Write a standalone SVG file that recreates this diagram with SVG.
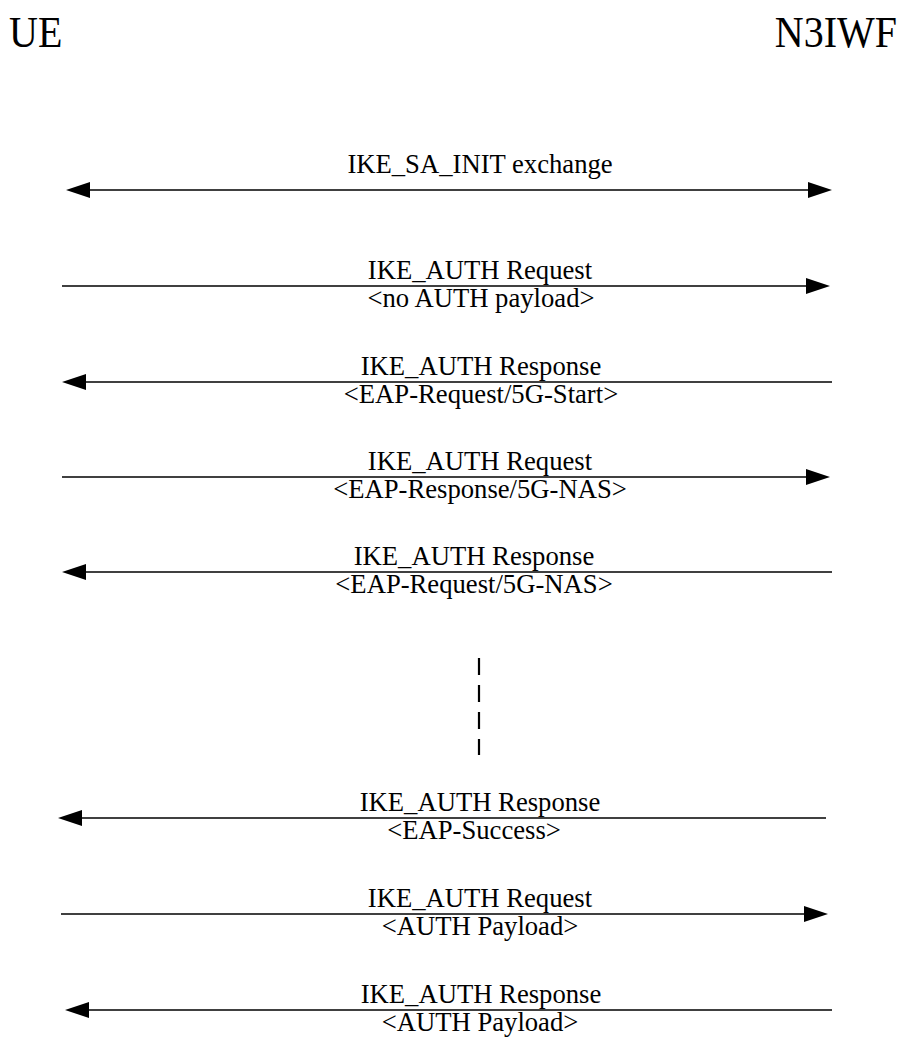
<svg xmlns="http://www.w3.org/2000/svg" width="902" height="1037" viewBox="0 0 902 1037">
<style>
.t{font-family:"Liberation Serif","Times New Roman",serif;fill:#000}
.lbl{font-size:26.67px;text-anchor:middle}
.hdr{font-size:40px}
.msg{stroke:#000;stroke-width:1.5;fill:none}
.dash{stroke:#000;stroke-width:2.2;stroke-dasharray:17 10;fill:none}
</style>
<defs>
<marker id="ah" markerUnits="userSpaceOnUse" markerWidth="24" markerHeight="16" refX="0" refY="8" orient="auto-start-reverse" viewBox="0 0 24 16">
<path d="M0,0 L24,8 L0,16 z" fill="#000"/>
</marker>
</defs>
<rect width="902" height="1037" fill="#fff"/>
<g id="ue"><text class="t hdr" transform="translate(9,47) scale(1,1.1)">UE</text></g>
<g id="n3iwf"><text class="t hdr" transform="translate(897,47) scale(1,1.1)" text-anchor="end">N3IWF</text></g>
<g id="connectors">
<line class="msg" x1="90" y1="190" x2="808" y2="190" marker-start="url(#ah)" marker-end="url(#ah)"/>
<line class="msg" x1="62" y1="286" x2="806" y2="286" marker-end="url(#ah)"/>
<line class="msg" x1="832" y1="382" x2="86" y2="382" marker-end="url(#ah)"/>
<line class="msg" x1="62" y1="477" x2="806" y2="477" marker-end="url(#ah)"/>
<line class="msg" x1="832" y1="572" x2="86" y2="572" marker-end="url(#ah)"/>
<line class="dash" x1="479" y1="658" x2="479" y2="755"/>
<line class="msg" x1="826" y1="818" x2="82" y2="818" marker-end="url(#ah)"/>
<line class="msg" x1="61" y1="914" x2="804" y2="914" marker-end="url(#ah)"/>
<line class="msg" x1="832" y1="1010" x2="89" y2="1010" marker-end="url(#ah)"/>
</g>
<g id="labels" class="t lbl">
<text x="480" y="173">IKE_SA_INIT exchange</text>
<text x="480" y="279">IKE_AUTH Request</text>
<text x="481" y="307">&lt;no AUTH payload&gt;</text>
<text x="481" y="375">IKE_AUTH Response</text>
<text x="481" y="403">&lt;EAP-Request/5G-Start&gt;</text>
<text x="480" y="470">IKE_AUTH Request</text>
<text x="480" y="498">&lt;EAP-Response/5G-NAS&gt;</text>
<text x="474" y="565">IKE_AUTH Response</text>
<text x="474" y="593">&lt;EAP-Request/5G-NAS&gt;</text>
<text x="480" y="811">IKE_AUTH Response</text>
<text x="474" y="839">&lt;EAP-Success&gt;</text>
<text x="480" y="907">IKE_AUTH Request</text>
<text x="480" y="935">&lt;AUTH Payload&gt;</text>
<text x="481" y="1003">IKE_AUTH Response</text>
<text x="480" y="1031">&lt;AUTH Payload&gt;</text>
</g>
</svg>
